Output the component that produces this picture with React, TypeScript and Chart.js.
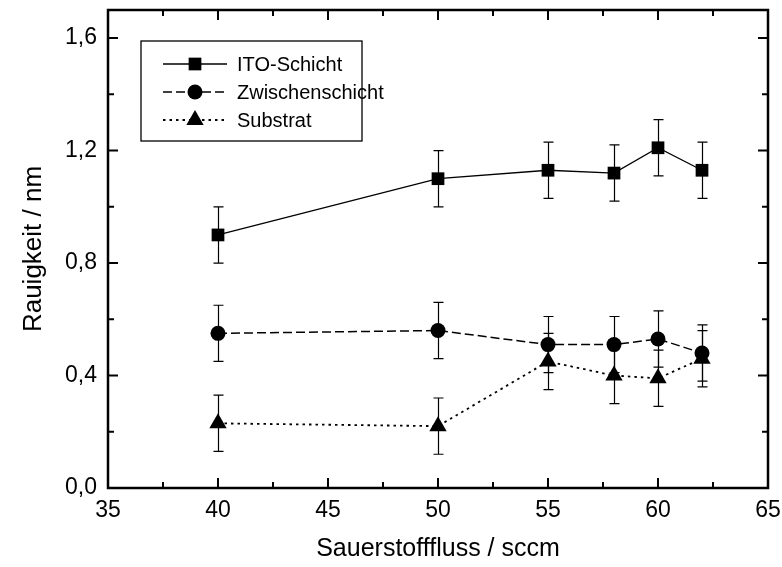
import { useEffect, useRef } from 'react';
import { Chart, registerables } from 'chart.js';
import { drawPoint } from 'chart.js/helpers';

Chart.register(...registerables);

// Oxygen flow (sccm) at which the samples were deposited
const flowRates = [40, 50, 55, 58, 60, 62];

// Roughness values (nm) per layer
const itoLayer = [0.9, 1.1, 1.13, 1.12, 1.21, 1.13];
const interLayer = [0.55, 0.56, 0.51, 0.51, 0.53, 0.48];
const substrate = [0.23, 0.22, 0.45, 0.4, 0.39, 0.46];

// Uncertainty (± nm) per point
const itoErr = [0.1, 0.1, 0.1, 0.1, 0.1, 0.1];
const interErr = [0.1, 0.1, 0.1, 0.1, 0.1, 0.1];
const substrateErr = [0.1, 0.1, 0.1, 0.1, 0.1, 0.1];

const seriesNames = ['ITO-Schicht', 'Zwischenschicht', 'Substrat'];
const xTitle = 'Sauerstofffluss / sccm';
const yTitle = 'Rauigkeit / nm';

const xMin = 35;
const xMax = 65;
const xMajor = 5;
const xMinor = 2.5;
const yMin = 0;
const yMax = 1.7;
const yMajor = 0.4;
const yMinor = 0.2;

const FONT = "'Liberation Sans', Arial, Helvetica, sans-serif";

const toPoints = (ys: number[]) => flowRates.map((x, i) => ({ x, y: ys[i] }));

// Vertical error bars with caps, drawn underneath the markers
const errorBarPlugin = {
  id: 'errorBars',
  beforeDatasetsDraw(chart: any) {
    const { ctx } = chart;
    const yScale = chart.scales.y;
    ctx.save();
    ctx.strokeStyle = '#000';
    ctx.lineWidth = 1.2;
    ctx.setLineDash([]);
    chart.data.datasets.forEach((ds: any, di: number) => {
      const meta = chart.getDatasetMeta(di);
      meta.data.forEach((pt: any, i: number) => {
        const v = ds.data[i].y;
        const e = ds.errors[i];
        const x = Math.round(pt.x) + 0.5;
        const yTop = yScale.getPixelForValue(v + e);
        const yBot = yScale.getPixelForValue(v - e);
        ctx.beginPath();
        ctx.moveTo(x, yTop);
        ctx.lineTo(x, yBot);
        ctx.moveTo(x - 5, yTop);
        ctx.lineTo(x + 5, yTop);
        ctx.moveTo(x - 5, yBot);
        ctx.lineTo(x + 5, yBot);
        ctx.stroke();
      });
    });
    ctx.restore();
  },
};

// Closed frame with inward-pointing major/minor ticks on all four sides
const framePlugin = {
  id: 'frame',
  afterDatasetsDraw(chart: any) {
    const { ctx, chartArea: a } = chart;
    const xs = chart.scales.x;
    const ys = chart.scales.y;
    ctx.save();
    ctx.strokeStyle = '#000';
    ctx.setLineDash([]);
    ctx.lineWidth = 2;
    const eps = 1e-6;
    for (let v = xMin; v <= xMax + eps; v += xMinor) {
      const major = Math.abs(v / xMajor - Math.round(v / xMajor)) < eps;
      const len = major ? 10 : 6;
      const px = xs.getPixelForValue(v);
      ctx.beginPath();
      ctx.moveTo(px, a.bottom);
      ctx.lineTo(px, a.bottom - len);
      ctx.moveTo(px, a.top);
      ctx.lineTo(px, a.top + len);
      ctx.stroke();
    }
    for (let v = yMin; v <= yMax + eps; v += yMinor) {
      const major = Math.abs(v / yMajor - Math.round(v / yMajor)) < eps;
      const len = major ? 10 : 6;
      const py = ys.getPixelForValue(v);
      ctx.beginPath();
      ctx.moveTo(a.left, py);
      ctx.lineTo(a.left + len, py);
      ctx.moveTo(a.right, py);
      ctx.lineTo(a.right - len, py);
      ctx.stroke();
    }
    ctx.lineWidth = 2.5;
    ctx.strokeRect(a.left, a.top, a.right - a.left, a.bottom - a.top);
    ctx.restore();
  },
};

// Boxed legend: line sample with marker, then the series name
const boxLegendPlugin = {
  id: 'boxLegend',
  afterDraw(chart: any) {
    const { ctx, chartArea: a } = chart;
    const bx = a.left + 33;
    const by = a.top + 31;
    const bw = 221;
    const bh = 100;
    ctx.save();
    ctx.fillStyle = '#fff';
    ctx.fillRect(bx, by, bw, bh);
    ctx.strokeStyle = '#000';
    ctx.lineWidth = 1.3;
    ctx.setLineDash([]);
    ctx.strokeRect(bx, by, bw, bh);
    chart.data.datasets.forEach((ds: any, i: number) => {
      const ry = by + 23 + i * 28;
      const x0 = bx + 22;
      const x1 = bx + 86;
      ctx.strokeStyle = '#000';
      ctx.lineWidth = ds.borderWidth;
      ctx.setLineDash(ds.borderDash || []);
      ctx.beginPath();
      ctx.moveTo(x0, ry);
      ctx.lineTo(x1, ry);
      ctx.stroke();
      ctx.setLineDash([]);
      ctx.fillStyle = '#000';
      drawPoint(ctx, { pointStyle: ds.pointStyle, radius: ds.pointRadius, rotation: 0, borderWidth: 0 }, (x0 + x1) / 2, ry);
      ctx.fillStyle = '#000';
      ctx.font = `20px ${FONT}`;
      ctx.textBaseline = 'middle';
      ctx.textAlign = 'left';
      ctx.fillText(seriesNames[i], bx + 96, ry + 1);
    });
    ctx.restore();
  },
};

const fmt = (v: number) => v.toFixed(1).replace('.', ',');

export default function App() {
  const canvasRef = useRef<HTMLCanvasElement | null>(null);

  useEffect(() => {
    if (!canvasRef.current) return;
    const common = {
      borderColor: '#000',
      backgroundColor: '#000',
      pointBackgroundColor: '#000',
      pointBorderColor: '#000',
      pointBorderWidth: 0,
      pointHoverRadius: 0,
      tension: 0,
      fill: false,
    };
    const chart = new Chart(canvasRef.current, {
      type: 'line',
      data: {
        datasets: [
          {
            ...common,
            label: seriesNames[0],
            data: toPoints(itoLayer),
            errors: itoErr,
            borderWidth: 1.3,
            borderDash: [],
            pointStyle: 'rect',
            pointRadius: 9,
          },
          {
            ...common,
            label: seriesNames[1],
            data: toPoints(interLayer),
            errors: interErr,
            borderWidth: 1.5,
            borderDash: [9, 4],
            pointStyle: 'circle',
            pointRadius: 7.5,
          },
          {
            ...common,
            label: seriesNames[2],
            data: toPoints(substrate),
            errors: substrateErr,
            borderWidth: 1.8,
            borderDash: [2.5, 4],
            pointStyle: 'triangle',
            pointRadius: 10,
          },
        ] as any,
      },
      options: {
        animation: false,
        responsive: true,
        maintainAspectRatio: false,
        events: [],
        layout: { padding: { top: 8, right: 14, left: 0, bottom: 0 } },
        plugins: {
          legend: { display: false },
          tooltip: { enabled: false },
        },
        scales: {
          x: {
            type: 'linear',
            min: xMin,
            max: xMax,
            grid: { display: false, drawTicks: false },
            border: { display: false },
            ticks: {
              stepSize: xMajor,
              includeBounds: false,
              padding: 9,
              color: '#000',
              font: { family: FONT, size: 23 },
              maxRotation: 0,
              callback: (v: any) => String(v),
            },
            title: {
              display: true,
              text: xTitle,
              color: '#000',
              font: { family: FONT, size: 25 },
              padding: { top: 0, bottom: 3 },
            },
            afterFit: (s: any) => {
              s.height = 79;
              s.paddingLeft = 0;
              s.paddingRight = 0;
            },
          },
          y: {
            type: 'linear',
            min: yMin,
            max: yMax,
            grid: { display: false, drawTicks: false },
            border: { display: false },
            ticks: {
              stepSize: yMajor,
              includeBounds: false,
              padding: 11,
              color: '#000',
              font: { family: FONT, size: 23 },
              callback: (v: any) => fmt(Number(v)),
            },
            title: {
              display: true,
              text: yTitle,
              color: '#000',
              font: { family: FONT, size: 26 },
              padding: { top: 18, bottom: 0 },
            },
            afterFit: (s: any) => {
              s.width = 108;
              s.paddingTop = 0;
              s.paddingBottom = 0;
            },
          },
        },
      } as any,
      plugins: [errorBarPlugin, framePlugin, boxLegendPlugin],
    });
    return () => chart.destroy();
  }, []);

  return (
    <div style={{ position: 'fixed', left: 0, top: 0, width: 782, height: 567, background: '#fff' }}>
      <canvas ref={canvasRef} />
    </div>
  );
}
